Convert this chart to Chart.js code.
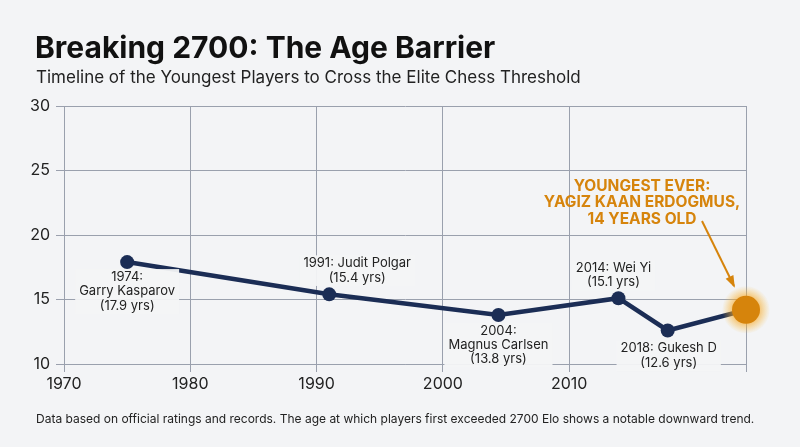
<!DOCTYPE html>
<html><head><meta charset="utf-8">
<script src="https://cdn.jsdelivr.net/npm/chart.js@4"></script>
<style>html,body{margin:0;background:#f3f4f6}#w{width:800px;height:447px;position:relative}</style>
</head><body><div id="w"><canvas id="c"></canvas></div>
<script>
const years=[1975,1991,2004.4,2013.9,2017.8,2024];
const ages=[17.9,15.4,13.8,15.1,12.6,14.2];
const labels=[["1974:","Garry Kasparov","(17.9 yrs)"],["1991: Judit Polgar","(15.4 yrs)"],["2004:","Magnus Carlsen","(13.8 yrs)"],["2014: Wei Yi","(15.1 yrs)"],["2018: Gukesh D","(12.6 yrs)"]];
const labelOffsets=[[0,15],[28,-31],[0,16],[-5,-30],[1,18]];
const navy="#1b2d55", orange="#d6840c";
const deco={id:'deco',
 afterDatasetsDraw(ch){
  const c=ch.ctx,xs=ch.scales.x,ys=ch.scales.y;
  c.save();
  c.font="13px Inter, 'Noto Sans', sans-serif";c.textAlign="center";c.textBaseline="middle";
  labels.forEach((ls,i)=>{
   const px=xs.getPixelForValue(years[i])+labelOffsets[i][0];
   const py=ys.getPixelForValue(ages[i])+labelOffsets[i][1];
   const w=Math.max(...ls.map(l=>c.measureText(l).width))+8;
   c.fillStyle="rgba(243,244,246,0.95)";
   c.fillRect(px-w/2,py-8,w,ls.length*14.3+2);
   c.fillStyle="#222";
   ls.forEach((l,j)=>c.fillText(l,px,py+j*14.3));
  });
  // glowing final point
  const fx=xs.getPixelForValue(years[5]),fy=ys.getPixelForValue(ages[5]);
  const g=c.createRadialGradient(fx,fy,10,fx,fy,24);
  g.addColorStop(0,"rgba(245,160,30,0.8)");g.addColorStop(1,"rgba(250,190,60,0)");
  c.fillStyle=g;c.beginPath();c.arc(fx,fy,24,0,Math.PI*2);c.fill();
  c.fillStyle=orange;c.beginPath();c.arc(fx,fy,14,0,Math.PI*2);c.fill();
  // annotation
  c.fillStyle=orange;c.font="bold 15.5px Inter, 'Noto Sans', sans-serif";
  ["YOUNGEST EVER:","YAGIZ KAAN ERDOGMUS,","14 YEARS OLD"].forEach((l,j)=>c.fillText(l,642,186+j*16.5));
  c.strokeStyle=orange;c.lineWidth=2;
  const ax1=702,ay1=221,ax2=734,ay2=286;
  c.beginPath();c.moveTo(ax1,ay1);c.lineTo(ax2,ay2);c.stroke();
  const an=Math.atan2(ay2-ay1,ax2-ax1);
  c.beginPath();c.moveTo(ax2+2*Math.cos(an),ay2+2*Math.sin(an));
  c.lineTo(ax2-11*Math.cos(an-0.4),ay2-11*Math.sin(an-0.4));
  c.lineTo(ax2-11*Math.cos(an+0.4),ay2-11*Math.sin(an+0.4));c.closePath();c.fill();
  // titles
  c.textAlign="left";c.textBaseline="alphabetic";c.fillStyle="#111";
  c.font="bold 30px Inter, 'Noto Sans', sans-serif";c.fillText("Breaking 2700: The Age Barrier",35,58);
  c.font="17px Inter, 'Noto Sans', sans-serif";c.fillStyle="#222";
  c.fillText("Timeline of the Youngest Players to Cross the Elite Chess Threshold",36,83);
  c.font="12px Inter, 'Noto Sans', sans-serif";
  c.fillText("Data based on official ratings and records. The age at which players first exceeded 2700 Elo shows a notable downward trend.",36,423);
  c.restore();
 }};
new Chart(document.getElementById('c'),{
 type:'scatter',
 data:{datasets:[{data:years.map((y,i)=>({x:y,y:ages[i]})),showLine:true,borderColor:navy,borderWidth:4.5,
   pointRadius:[7,7,7,7,7,0],pointBackgroundColor:navy,pointBorderWidth:0}]},
 options:{responsive:true,maintainAspectRatio:false,animation:false,
  layout:{padding:{left:30,right:54,top:106,bottom:53}},
  plugins:{legend:{display:false},tooltip:{enabled:false}},
  scales:{
   x:{type:'linear',min:1970,max:2024,afterFit(s){s.height=30},
    ticks:{stepSize:10,color:"#222",font:{size:16,family:"Inter, 'Noto Sans', sans-serif"},callback:v=>v%10===0?v:''},
    grid:{color:"#9aa0ad",lineWidth:1},border:{color:"#9aa0ad"}},
   y:{min:10,max:30,afterFit(s){s.width=34},
    ticks:{stepSize:5,color:"#222",padding:6,font:{size:16,family:"Inter, 'Noto Sans', sans-serif"}},
    grid:{color:"#9aa0ad",lineWidth:1},border:{color:"#9aa0ad"}}
  }},
 plugins:[deco]
});
</script></body></html>
